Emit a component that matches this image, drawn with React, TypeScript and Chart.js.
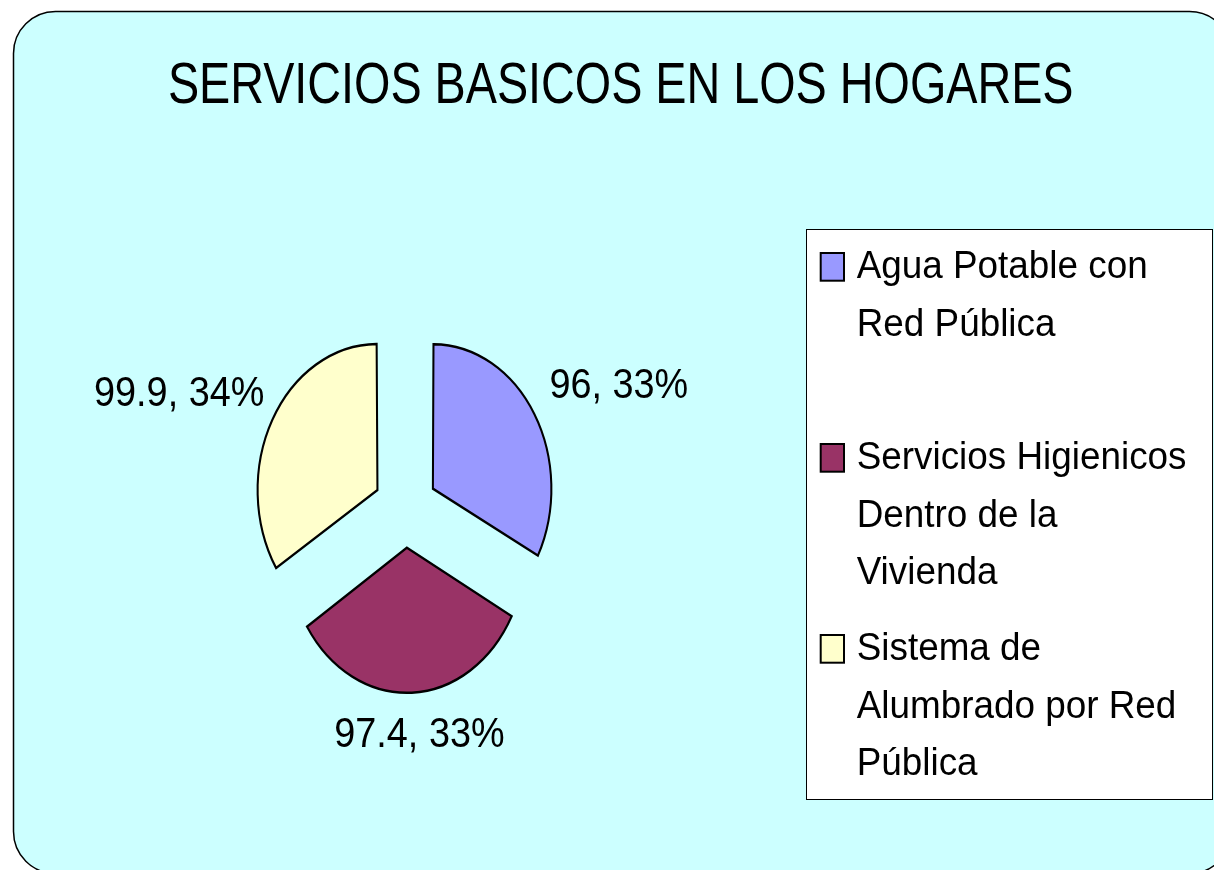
import React, { useEffect, useRef } from "react";
import { Chart, registerables } from "chart.js";

Chart.register(...registerables);

const TITLE = "SERVICIOS BASICOS EN LOS HOGARES";
const categories = [
  "Agua Potable con Red Pública",
  "Servicios Higienicos Dentro de la Vivienda",
  "Sistema de Alumbrado por Red Pública",
];
const values = [96, 97.4, 99.9];
const sliceColors = ["#9999FF", "#993366", "#FFFFCC"];

const W = 1214;
const H = 870;
const SX = 0.82; // horizontal squash of the pie (ellipse)
const FONT = '"Liberation Sans", Arimo, Arial, sans-serif';

function roundRectPath(ctx: CanvasRenderingContext2D, x: number, y: number, w: number, h: number, r: number) {
  ctx.beginPath();
  ctx.moveTo(x + r, y);
  ctx.lineTo(x + w - r, y);
  ctx.arcTo(x + w, y, x + w, y + r, r);
  ctx.lineTo(x + w, y + h - r);
  ctx.arcTo(x + w, y + h, x + w - r, y + h, r);
  ctx.lineTo(x + r, y + h);
  ctx.arcTo(x, y + h, x, y + h - r, r);
  ctx.lineTo(x, y + r);
  ctx.arcTo(x, y, x + r, y, r);
  ctx.closePath();
}

function drawText(
  ctx: CanvasRenderingContext2D,
  text: string,
  x: number,
  y: number,
  size: number,
  sx: number,
  align: CanvasTextAlign
) {
  ctx.save();
  ctx.translate(x, y);
  ctx.scale(sx, 1);
  ctx.font = `${size}px ${FONT}`;
  ctx.fillStyle = "#000";
  ctx.textAlign = align;
  ctx.textBaseline = "alphabetic";
  ctx.fillText(text, 0, 0);
  ctx.restore();
}

function wrap(ctx: CanvasRenderingContext2D, text: string, maxW: number): string[] {
  const words = text.split(" ");
  const lines: string[] = [];
  let cur = "";
  for (const w of words) {
    const t = cur ? cur + " " + w : w;
    if (cur && ctx.measureText(t).width > maxW) {
      lines.push(cur);
      cur = w;
    } else cur = t;
  }
  if (cur) lines.push(cur);
  return lines;
}

const decorPlugin = {
  id: "decor",
  beforeDraw(chart: any) {
    const ctx: CanvasRenderingContext2D = chart.ctx;
    ctx.save();
    ctx.fillStyle = "#FFFFFF";
    ctx.fillRect(0, 0, W, H);
    roundRectPath(ctx, 13.5, 11.5, 1218, 862, 42);
    ctx.fillStyle = "#CCFFFF";
    ctx.fill();
    ctx.lineWidth = 1.5;
    ctx.strokeStyle = "#000";
    ctx.stroke();

    // title
    drawText(ctx, TITLE, 620.7, 103.3, 57, 0.82, "center");

    // legend
    ctx.fillStyle = "#FFFFFF";
    ctx.fillRect(806.5, 229.5, 406, 570);
    ctx.lineWidth = 1;
    ctx.strokeStyle = "#000";
    ctx.strokeRect(806.5, 229.5, 406, 570);

    const legendSize = 38;
    const legendSx = 0.97;
    ctx.font = `${legendSize}px ${FONT}`;
    const labels: string[] = chart.data.labels;
    const colors: string[] = chart.data.datasets[0].backgroundColor;
    const wrapped = labels.map((l) => wrap(ctx, l, 350));
    const maxLines = Math.max(...wrapped.map((w) => w.length));
    const lineH = 57.5;
    const slot = maxLines * lineH + 18.5;
    wrapped.forEach((lines, i) => {
      const base = 278 + i * slot;
      ctx.fillStyle = colors[i];
      ctx.fillRect(820.7, base - 25, 23.3, 27.7);
      ctx.lineWidth = 2;
      ctx.strokeStyle = "#000";
      ctx.strokeRect(820.7, base - 25, 23.3, 27.7);
      lines.forEach((ln, j) => drawText(ctx, ln, 856.7, base + j * lineH, legendSize, legendSx, "left"));
    });
    ctx.restore();
  },
  beforeDatasetsDraw(chart: any) {
    const ctx: CanvasRenderingContext2D = chart.ctx;
    const cx = (chart.chartArea.left + chart.chartArea.right) / 2;
    ctx.save();
    ctx.translate(cx, 0);
    ctx.scale(SX, 1);
    ctx.translate(-cx, 0);
  },
  afterDatasetsDraw(chart: any) {
    const ctx: CanvasRenderingContext2D = chart.ctx;
    ctx.restore();
    const meta = chart.getDatasetMeta(0);
    const data: number[] = chart.data.datasets[0].data;
    const total = data.reduce((a, b) => a + b, 0);
    const size = 42;
    const lsx = 0.9;
    const capH = 0.716 * size;
    ctx.save();
    ctx.font = `${size}px ${FONT}`;
    meta.data.forEach((el: any, i: number) => {
      const { x, y, startAngle, endAngle, outerRadius } = el;
      const off = (el.options.offset || 0) / 4;
      const mid = (startAngle + endAngle) / 2;
      const D = off + outerRadius + 36;
      const ax = x + Math.cos(mid) * D * SX;
      const ay = y + Math.sin(mid) * D;
      const txt = `${data[i]}, ${Math.round((data[i] / total) * 100)}%`;
      const w = ctx.measureText(txt).width * lsx;
      const bx = ax + (Math.cos(mid) * w) / 2 + 3;
      const by = ay + (Math.sin(mid) * capH) / 2 - 7;
      drawText(ctx, txt, bx, by + capH / 2, size, lsx, "center");
    });
    ctx.restore();
  },
};

export default function App() {
  const ref = useRef<HTMLCanvasElement>(null);
  useEffect(() => {
    if (!ref.current) return;
    const chart = new Chart(ref.current, {
      type: "pie",
      data: {
        labels: categories,
        datasets: [
          {
            data: values,
            backgroundColor: sliceColors,
            borderColor: "#000000",
            borderWidth: 2.5,
            borderJoinStyle: "miter",
            offset: 156,
            hoverOffset: 0,
            radius: 140,
          } as any,
        ],
      },
      options: {
        animation: false,
        responsive: false,
        events: [],
        radius: 140,
        layout: { padding: { left: 100, right: 503, top: 200, bottom: 52.4 } },
        plugins: {
          legend: { display: false },
          title: { display: false },
          tooltip: { enabled: false },
        },
      } as any,
      plugins: [decorPlugin],
    });
    return () => chart.destroy();
  }, []);
  return (
    <div style={{ position: "fixed", left: 0, top: 0, width: W, height: H }}>
      <canvas ref={ref} width={W} height={H} style={{ display: "block", width: W, height: H }} />
    </div>
  );
}
